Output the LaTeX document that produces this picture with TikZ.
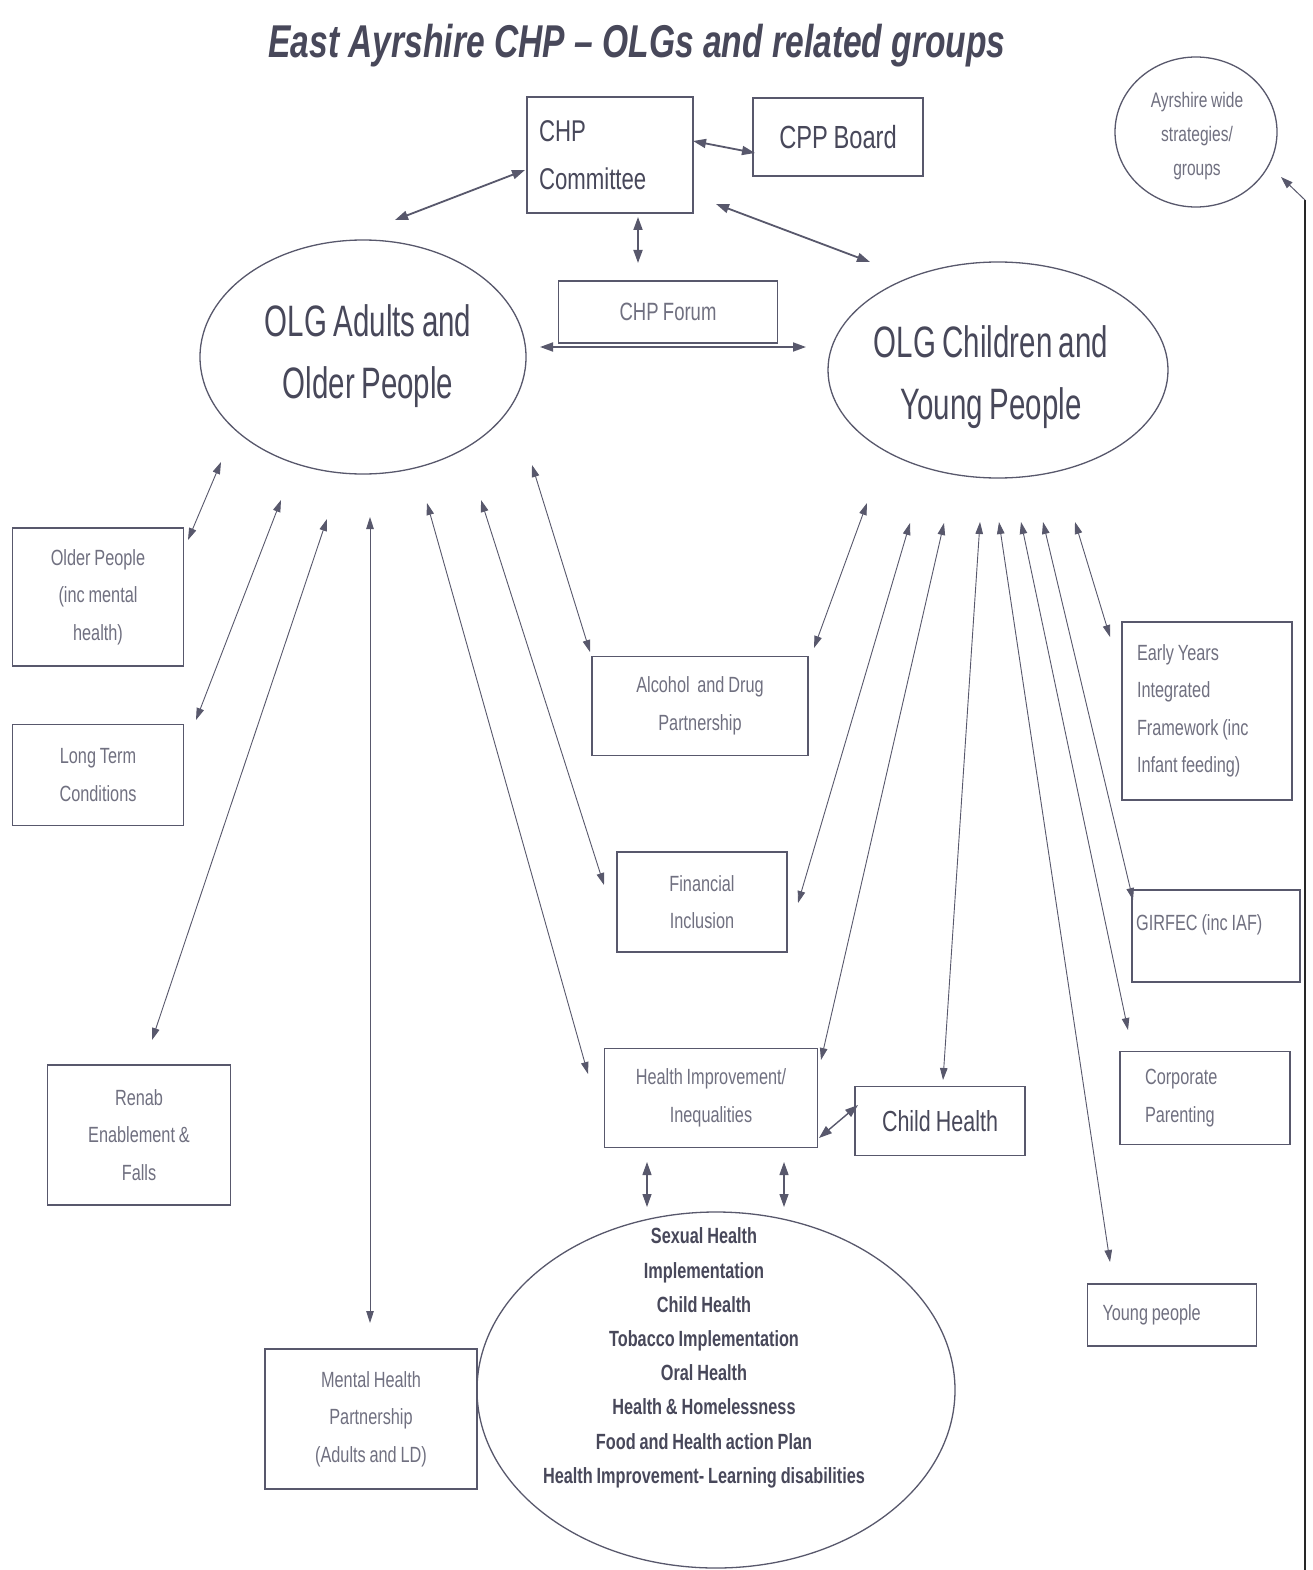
\documentclass[tikz,border=0pt]{standalone}
\usepackage{fontspec}
\setmainfont{Liberation Sans}
\newfontfamily\cf{Liberation Sans}[FakeStretch=0.74, WordSpace=0.85]
\newfontfamily\cft{Liberation Sans}[FakeStretch=0.73]
\newfontfamily\cfn{Liberation Sans}[FakeStretch=0.67, WordSpace=0.8]
\usetikzlibrary{arrows.meta,shapes.geometric}
\definecolor{ln}{RGB}{88,88,108}
\definecolor{tx}{RGB}{112,112,128}
\definecolor{tk}{RGB}{72,72,90}
\tikzset{
  box/.style={draw=ln, line width=1.3pt, rectangle, inner sep=0pt, align=center, text=tx,
              font=\cf\fontsize{22}{37.5}\selectfont},
  oval/.style={draw=ln, line width=1.3pt, ellipse, inner sep=0pt},
  big/.style={text=tk, align=center, font=\cfn\fontsize{44}{62}\selectfont},
  bi/.style={draw=ln, line width=1.8pt, {Triangle[length=13pt,width=9pt]}-{Triangle[length=13pt,width=9pt]}},
  thin/.style={draw=ln, line width=0.9pt, {Triangle[length=12pt,width=7.5pt]}-{Triangle[length=12pt,width=7.5pt]}},
}
\begin{document}
\begin{tikzpicture}[x=1pt,y=-1pt]
\useasboundingbox[fill=white] (0,0) rectangle (1312,1570);

% title
\node[text=tk, font=\cft\fontsize{46}{50}\selectfont\bfseries\itshape] (title) at (637,46)
  {East Ayrshire CHP – OLGs and related groups};

% top boxes
\node[box, minimum width=166pt, minimum height=116pt, text width=142pt, align=flush left, text=tk,
      font=\cf\fontsize{30}{48}\selectfont] (committee) at (610,155) {CHP\\Committee};
\node[box, minimum width=170pt, minimum height=78pt, text=tk,
      font=\cf\fontsize{32}{40}\selectfont] (cpp) at (838,137) {CPP Board};
\node[box, minimum width=219pt, minimum height=62pt,
      font=\cf\fontsize{25}{30}\selectfont] (forum) at (668,312) {CHP Forum};

% Ayrshire circle
\node[oval, minimum width=162pt, minimum height=150pt] (ayr) at (1196,132) {};
\node[text=tx, align=center, font=\cf\fontsize{21}{34}\selectfont] (ayrtxt) at (1197,136)
  {Ayrshire wide\\strategies/\\groups};

% OLG ellipses
\node[oval, minimum width=326pt, minimum height=234pt] (adults) at (363,357) {};
\node[big] (adultstxt) at (368,356) {OLG Adults and\\Older People};
\node[oval, minimum width=340pt, minimum height=216pt] (children) at (998,370) {};
\node[big] (childrentxt) at (991,377) {OLG Children and\\Young People};

% left boxes
\node[box, minimum width=171pt, minimum height=138pt] (older) at (98,597) {Older People\\(inc mental\\health)};
\node[box, minimum width=171pt, minimum height=101pt] (ltc) at (98,775) {Long Term\\Conditions};
\node[box, minimum width=183pt, minimum height=140pt] (renab) at (139,1135) {Renab\\Enablement \&\\Falls};
\node[box, minimum width=212pt, minimum height=140pt] (mhp) at (371,1419) {Mental Health\\Partnership\\(Adults and LD)};

% middle boxes
\node[box, minimum width=216pt, minimum height=99pt] (alc) at (700,706) {Alcohol~ and Drug\\Partnership};
\node[box, minimum width=170pt, minimum height=100pt] (fin) at (702,902) {Financial\\Inclusion};
\node[box, minimum width=213pt, minimum height=99pt] (hi) at (711,1098) {Health Improvement/\\Inequalities};
\node[box, minimum width=170pt, minimum height=69pt, text=tk,
      font=\cf\fontsize{29}{34}\selectfont] (ch) at (940,1121) {Child Health};

% right boxes
\node[box, minimum width=170pt, minimum height=178pt, text width=140pt, align=flush left] (ey) at (1207,711)
  {Early Years\\Integrated\\Framework (inc\\Infant feeding)};
\node[box, minimum width=168pt, minimum height=92pt] (girfec) at (1216,936) {};
\node[text=tx, anchor=west, inner sep=0pt, font=\cf\fontsize{22}{26}\selectfont] (girfectxt) at (1136,925) {GIRFEC (inc IAF)};
\node[box, minimum width=170pt, minimum height=93pt, text width=120pt, align=flush left] (cp) at (1205,1098) {Corporate\\Parenting};
\node[box, minimum width=169pt, minimum height=62pt, text width=139pt, align=flush left] (yp) at (1172,1315) {Young people};

% bottom ellipse
\node[oval, minimum width=478pt, minimum height=356pt] (bottom) at (716,1390) {};
\node[text=tk, align=center, font=\cf\fontsize{22}{34.2}\selectfont\bfseries] (bottomtxt) at (704,1358)
  {Sexual Health\\Implementation\\Child Health\\Tobacco Implementation\\Oral Health\\Health \& Homelessness\\Food and Health action Plan\\Health Improvement- Learning disabilities};

% connector end points
\coordinate (a1) at (395,220);  \coordinate (cm1) at (525,170);
\coordinate (cm2) at (693,141); \coordinate (cp1) at (755,153);
\coordinate (cm3) at (638,217); \coordinate (fo1) at (638,263);
\coordinate (cm4) at (716,204); \coordinate (c1) at (870,262);
\coordinate (a2) at (540,347);  \coordinate (c2) at (806,347);

\coordinate (b1s) at (221,462); \coordinate (b1e) at (188,540);
\coordinate (b2s) at (281,500); \coordinate (b2e) at (196,720);
\coordinate (b3s) at (327,519); \coordinate (b3e) at (152,1040);
\coordinate (b4s) at (370,517); \coordinate (b4e) at (370,1323);
\coordinate (b5s) at (427,503); \coordinate (b5e) at (588,1074);
\coordinate (b6s) at (481,500); \coordinate (b6e) at (604,885);
\coordinate (b7s) at (532,465); \coordinate (b7e) at (590,652);

\coordinate (c1s) at (867,503);  \coordinate (c1e) at (814,648);
\coordinate (c2s) at (910,523);  \coordinate (c2e) at (798,903);
\coordinate (c3s) at (944,523);  \coordinate (c3e) at (821,1060);
\coordinate (c4s) at (980,522);  \coordinate (c4e) at (943,1080);
\coordinate (c5s) at (999,522);  \coordinate (c5e) at (1110,1262);
\coordinate (c6s) at (1021,522); \coordinate (c6e) at (1128,1030);
\coordinate (c7s) at (1043,522); \coordinate (c7e) at (1133,900);
\coordinate (c8s) at (1075,522); \coordinate (c8e) at (1110,637);

\coordinate (d1s) at (819,1138); \coordinate (d1e) at (858,1105);
\coordinate (d2s) at (647,1162); \coordinate (d2e) at (647,1207);
\coordinate (d3s) at (784,1162); \coordinate (d3e) at (784,1207);

\coordinate (rb) at (1305,1570); \coordinate (rt) at (1305,200); \coordinate (ra) at (1281,177);

% top connectors
\draw[bi] (a1) -- (cm1);
\draw[bi] (cm2) -- (cp1);
\draw[bi] (cm3) -- (fo1);
\draw[bi] (cm4) -- (c1);
\draw[bi] (a2) -- (c2);

% adults connectors
\draw[thin] (b1s) -- (b1e);
\draw[thin] (b2s) -- (b2e);
\draw[thin] (b3s) -- (b3e);
\draw[thin] (b4s) -- (b4e);
\draw[thin] (b5s) -- (b5e);
\draw[thin] (b6s) -- (b6e);
\draw[thin] (b7s) -- (b7e);

% children connectors
\draw[thin] (c1s) -- (c1e);
\draw[thin] (c2s) -- (c2e);
\draw[thin] (c3s) -- (c3e);
\draw[thin] (c4s) -- (c4e);
\draw[thin] (c5s) -- (c5e);
\draw[thin] (c6s) -- (c6e);
\draw[thin] (c7s) -- (c7e);
\draw[thin] (c8s) -- (c8e);

% health improvement connectors
\draw[bi, line width=1.4pt] (d1s) -- (d1e);
\draw[bi, line width=1.2pt] (d2s) -- (d2e);
\draw[bi, line width=1.2pt] (d3s) -- (d3e);

% right edge line
\draw[line width=1.2pt, draw=black!85] (rb) -- (rt);
\draw[draw=ln, line width=1pt, -{Triangle[length=12pt,width=8pt]}] (rt) -- (ra);
\end{tikzpicture}
\end{document}
